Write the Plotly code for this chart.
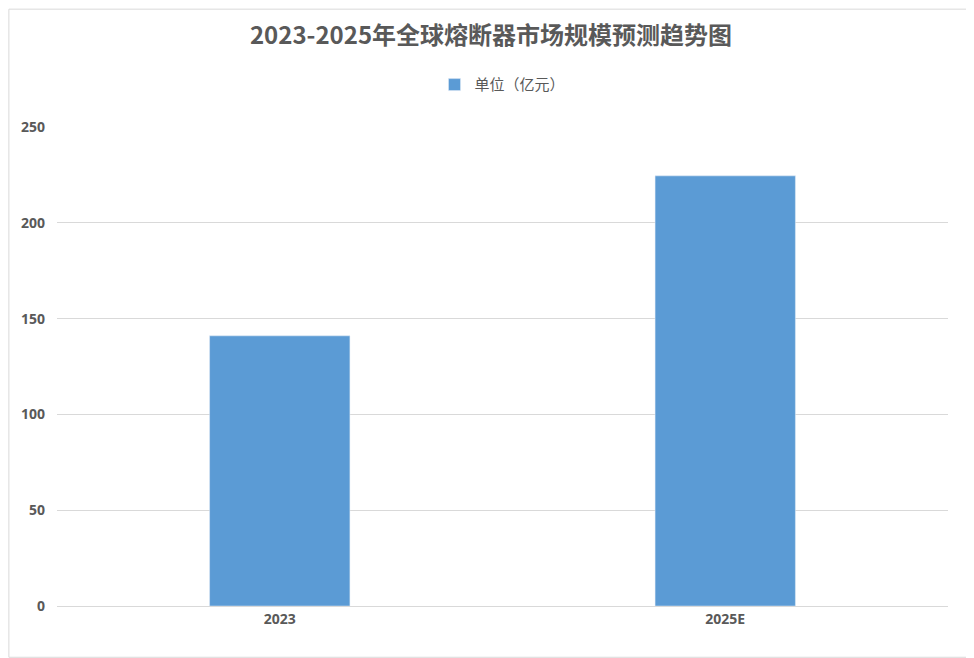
import plotly.graph_objects as go

years = ["2023", "2025E"]
market_size = [141, 224.5]
series_name = "单位（亿元）"

fig = go.Figure()
fig.add_trace(go.Bar(
    x=years, y=market_size, name=series_name,
    marker_color="#5b9bd5", width=0.315,
))

fig.update_layout(
    width=966, height=650,
    paper_bgcolor="white", plot_bgcolor="white",
    font=dict(family="Noto Sans CJK SC, Open Sans", color="#595959"),
    title=dict(text="<b>2023-2025年全球熔断器市场规模预测趋势图</b>",
               x=0.5, xanchor="center", y=0.957, yanchor="middle",
               font=dict(size=24, color="#595959")),
    showlegend=True,
    legend=dict(orientation="h", x=0.5, xanchor="center", y=1.088, yanchor="middle",
                font=dict(size=15, color="#595959")),
    margin=dict(l=49, r=26, t=119, b=52),
    xaxis=dict(showgrid=False, showline=True, linecolor="#d9d9d9",
               tickfont=dict(size=14, color="#595959", family="Open Sans", weight="bold"),
               ticks=""),
    yaxis=dict(range=[0, 250], dtick=50, gridcolor="#d9d9d9", zeroline=False,
               tickfont=dict(size=14, color="#595959", family="Open Sans", weight="bold"),
               ticksuffix="   "),
    shapes=[dict(type="rect", xref="paper", yref="paper", x0=-0.054, x1=1.027,
                 y0=-0.107, y1=1.246, line=dict(color="#d9d9d9", width=1))],
)

fig.write_html("out.html")
